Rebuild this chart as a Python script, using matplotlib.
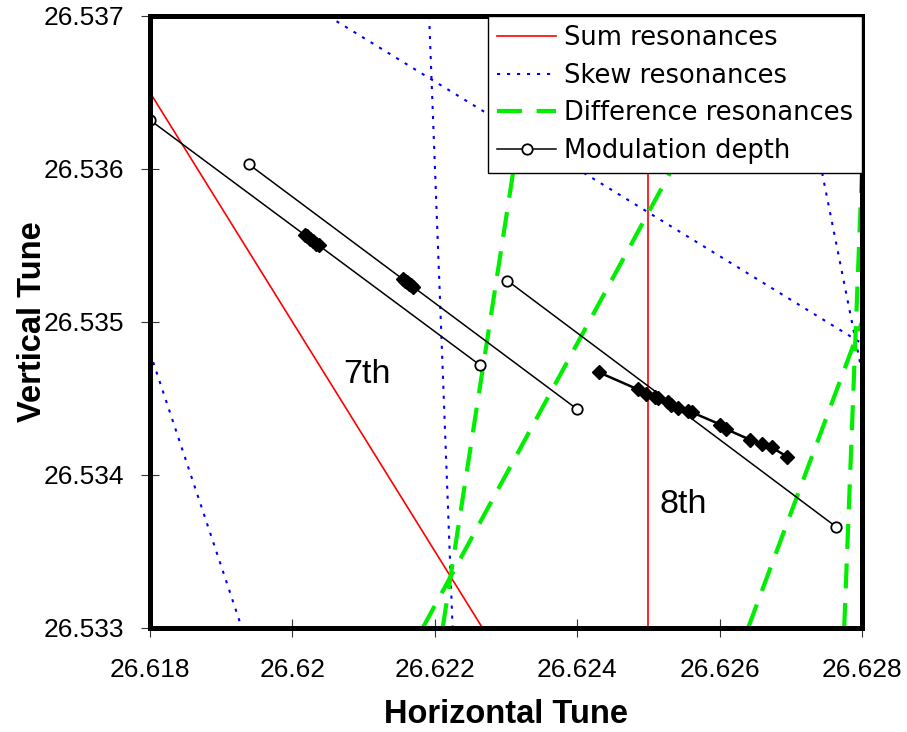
import numpy as np
import matplotlib.pyplot as plt

# resonance lines (end points in tune space)
sum_x = [[26.618, 26.62267], [26.625, 26.625]]
sum_y = [[26.5365, 26.533], [26.533, 26.537]]

skew_x = [[26.62192, 26.62225], [26.6205, 26.628], [26.627, 26.628], [26.618, 26.61929]]
skew_y = [[26.537, 26.533], [26.537, 26.53486], [26.537, 26.53467], [26.5348, 26.533]]

diff_x = [[26.62211, 26.62344], [26.62183, 26.6265], [26.6264, 26.628], [26.62775, 26.628]]
diff_y = [[26.533, 26.537], [26.533, 26.537], [26.533, 26.535], [26.533, 26.536]]

# modulation depth scans (start / end)
mod_x = [[26.618, 26.62263], [26.61939, 26.624], [26.62302, 26.62764]]
mod_y = [[26.53632, 26.53472], [26.53603, 26.53443], [26.53527, 26.53366]]

# measured working points
wp1_x = [26.62017, 26.62021, 26.62025, 26.62029, 26.62033, 26.62038]
wp1_y = [26.53557, 26.53556, 26.53554, 26.53553, 26.53551, 26.53550]
wp2_x = [26.62155, 26.62158, 26.62161, 26.62164, 26.62167, 26.62170]
wp2_y = [26.53528, 26.53527, 26.53526, 26.53525, 26.53524, 26.53523]
wp3_x = [26.62431, 26.62485, 26.62496, 26.62509, 26.62513, 26.62527, 26.62532, 26.62542,
         26.62556, 26.62561, 26.62601, 26.62609, 26.62643, 26.62660, 26.62673, 26.62695]
wp3_y = [26.53467, 26.53456, 26.53453, 26.53451, 26.53450, 26.53448, 26.53446, 26.53444,
         26.53442, 26.53441, 26.53433, 26.53430, 26.53423, 26.53420, 26.53418, 26.53412]

xticks = [26.618, 26.620, 26.622, 26.624, 26.626, 26.628]
xtick_labels = ['26.618', '26.62', '26.622', '26.624', '26.626', '26.628']
yticks = [26.533, 26.534, 26.535, 26.536, 26.537]
ytick_labels = ['26.533', '26.534', '26.535', '26.536', '26.537']

fig = plt.figure(figsize=(9.07, 7.32), dpi=100)
ax = fig.add_axes([150/907, 1-628/732, 712/907, 612/732])

for i in range(len(sum_x)):
    ax.plot(sum_x[i], sum_y[i], color='red', lw=1.2,
            label='Sum resonances' if i == 0 else None)
for i in range(len(skew_x)):
    ax.plot(skew_x[i], skew_y[i], color='blue', lw=1.5, ls=(0, (1.5, 3.3)),
            label='Skew resonances' if i == 0 else None)
for i in range(len(diff_x)):
    ax.plot(diff_x[i], diff_y[i], color='#00ee00', lw=3, ls=(0, (6, 3.5)),
            label='Difference resonances' if i == 0 else None)
for i in range(len(mod_x)):
    ax.plot(mod_x[i], mod_y[i], color='black', lw=1.1, marker='o', ms=7.5,
            mfc='white', mec='black', mew=1.3,
            label='Modulation depth' if i == 0 else None)

for wx, wy in [(wp1_x, wp1_y), (wp2_x, wp2_y), (wp3_x, wp3_y)]:
    ax.plot(wx, wy, color='black', lw=1.8, marker='D', ms=7.5)

ax.text(26.62105, 26.5346, '7th', ha='center', va='baseline',
        fontsize=24.5, family='Liberation Sans')
ax.text(26.62549, 26.53375, '8th', ha='center', va='baseline',
        fontsize=24.5, family='Liberation Sans')

ax.set_xlim(26.618, 26.628)
ax.set_ylim(26.533, 26.537)
ax.set_xticks(xticks)
ax.set_xticklabels(xtick_labels, family='Liberation Sans', fontsize=19)
ax.set_yticks(yticks)
ax.set_yticklabels(ytick_labels, family='Liberation Sans', fontsize=19)
ax.tick_params(direction='inout', length=13, width=0.8, color='#333333')
ax.tick_params(axis='x', pad=15)
ax.tick_params(axis='y', pad=12)

for sp in ax.spines.values():
    sp.set_linewidth(3.6)

ax.set_xlabel('Horizontal Tune', family='Liberation Sans', fontweight='bold',
              fontsize=23.5, labelpad=12)
ax.set_ylabel('Vertical Tune', family='Liberation Sans', fontweight='bold',
              fontsize=23.5, labelpad=-3)

leg = ax.legend(loc='upper right', fontsize=18.5, frameon=True, fancybox=False,
                framealpha=1, edgecolor='black', handlelength=2.3,
                handletextpad=0.3, borderpad=0.35, labelspacing=0.45,
                borderaxespad=0, numpoints=1)
leg.get_frame().set_linewidth(1.0)

fig.savefig('out.png', dpi=100)
